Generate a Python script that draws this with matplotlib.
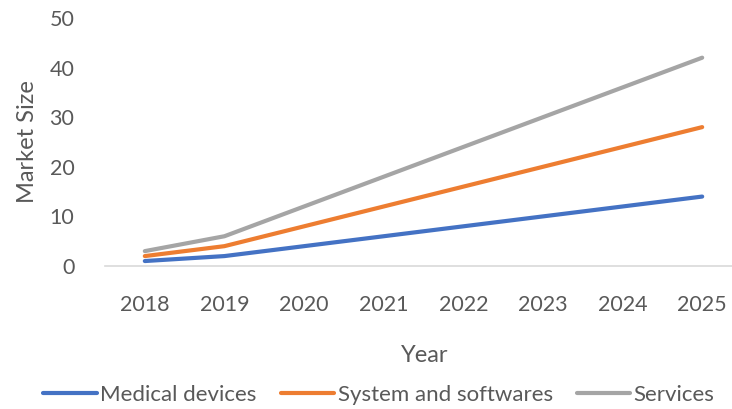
import matplotlib.pyplot as plt

years = ["2018", "2019", "2020", "2021", "2022", "2023", "2024", "2025"]
medical_devices = [1, 2, 4, 6, 8, 10, 12, 14]
system_software = [2, 4, 8, 12, 16, 20, 24, 28]
services = [3, 6, 12, 18, 24, 30, 36, 42]

plt.rcParams['font.family'] = ['Lato', 'DejaVu Sans']
txt = '#595959'

fig = plt.figure(figsize=(7.32, 4.09), dpi=100)
ax = fig.add_axes([105 / 732, 1 - 266 / 409, 637 / 732, 248 / 409])

x = range(len(years))
ax.plot(x, medical_devices, color='#4472C4', lw=3, label='Medical devices', solid_capstyle='round')
ax.plot(x, system_software, color='#ED7D31', lw=3, label='System and softwares', solid_capstyle='round')
ax.plot(x, services, color='#A5A5A5', lw=3, label='Services', solid_capstyle='round')

ax.set_xlim(-0.5, 7.5)
ax.set_ylim(0, 50)
ax.set_yticks(range(0, 51, 10))
ax.set_xticks(list(x))
ax.set_xticklabels(years)
for s in ['top', 'right', 'left']:
    ax.spines[s].set_visible(False)
ax.spines['bottom'].set_color('#D9D9D9')
ax.spines['bottom'].set_linewidth(1.2)
ax.tick_params(length=0, colors=txt, labelsize=15.5)
ax.tick_params(axis='y', pad=22)
ax.tick_params(axis='x', pad=21)

ax.set_ylabel('Market Size', color=txt, fontsize=17, labelpad=8)
fig.text(425 / 732, 1 - 356 / 409, 'Year', color=txt, fontsize=17, ha='center', va='center')

fig.legend(loc='center', bbox_to_anchor=(379 / 732, 1 - 395 / 409), ncol=3, frameon=False,
           fontsize=16, labelcolor=txt, handlelength=2.4, handletextpad=0.15,
           columnspacing=1.1, borderaxespad=0)

fig.savefig('out.png', dpi=100)
